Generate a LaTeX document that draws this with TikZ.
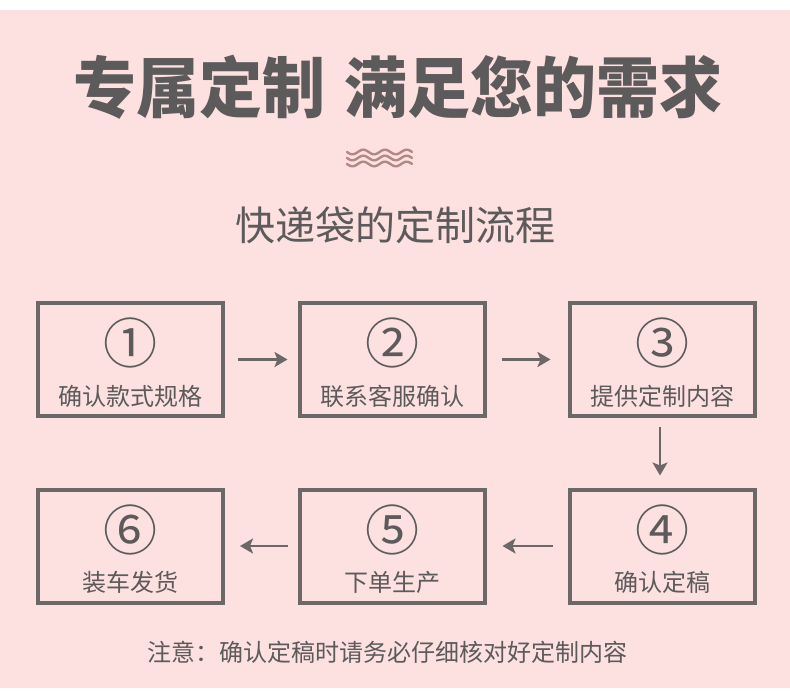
\documentclass[tikz,border=0pt]{standalone}
\usepackage{fontspec}
\newfontfamily\cjk{Noto Sans CJK SC}
\usetikzlibrary{arrows.meta,calc}
\definecolor{bgpink}{RGB}{253,224,224}
\definecolor{txtgray}{RGB}{92,90,90}
\definecolor{boxgray}{RGB}{108,104,104}
\definecolor{wavecol}{RGB}{180,134,134}
\tikzset{
  stepbox/.style={draw=boxgray,line width=4pt,fill=bgpink,minimum width=185pt,minimum height=113pt,inner sep=0pt},
  numtxt/.style={text=txtgray,font=\cjk\fontsize{54}{54}\selectfont,inner sep=0pt},
  steptxt/.style={text=txtgray,font=\cjk\fontsize{24}{24}\selectfont,inner sep=0pt},
  flow/.style={draw=boxgray,line width=2.6pt,-{Stealth[length=13pt,width=15pt,inset=3pt]}}
}
\begin{document}
\begin{tikzpicture}[x=1pt,y=-1pt]
\useasboundingbox (0,0) rectangle (790,700);
\fill[white] (0,0) rectangle (790,700);
\fill[bgpink] (0,10) rectangle (790,688);
% title
\node[text=txtgray,font=\cjk\bfseries\fontsize{63}{63}\selectfont,inner sep=0pt] (title) at (398,87) {\scalebox{1}[1.05]{专属定制\hspace{20pt}满足您的需求}};
% wave
\foreach \yy in {152,158,164}{
  \draw[wavecol,line width=2.4pt,line cap=round,domain=0:65,samples=80] plot ({347+\x},{\yy+2.3*sin(\x*16.59)});
}
\node[text=txtgray,font=\cjk\fontsize{40}{40}\selectfont,inner sep=0pt] (sub) at (395,225) {快递袋的定制流程};
% boxes
\node[stepbox] (b1) at (130.5,359.5) {};
\node[stepbox] (b2) at (392,359.5) {};
\node[stepbox] (b3) at (662,359.5) {};
\node[stepbox] (b4) at (662,546) {};
\node[stepbox] (b5) at (392,546) {};
\node[stepbox] (b6) at (130.5,546) {};
% numbers and labels
\node[numtxt] (n1) at ($(b1.north)+(0,42)$) {①};
\node[steptxt] (t1) at ($(b1.north)+(0,95)$) {确认款式规格};
\node[numtxt] (n2) at ($(b2.north)+(0,42)$) {②};
\node[steptxt] (t2) at ($(b2.north)+(0,95)$) {联系客服确认};
\node[numtxt] (n3) at ($(b3.north)+(0,42)$) {③};
\node[steptxt] (t3) at ($(b3.north)+(0,95)$) {提供定制内容};
\node[numtxt] (n4) at ($(b4.north)+(0,42)$) {④};
\node[steptxt] (t4) at ($(b4.north)+(0,95)$) {确认定稿};
\node[numtxt] (n5) at ($(b5.north)+(0,42)$) {⑤};
\node[steptxt] (t5) at ($(b5.north)+(0,95)$) {下单生产};
\node[numtxt] (n6) at ($(b6.north)+(0,42)$) {⑥};
\node[steptxt] (t6) at ($(b6.north)+(0,95)$) {装车发货};
% arrows
\draw[flow,shorten <=13pt,shorten >=10pt] (b1.east) -- (b2.west);
\draw[flow,shorten <=15pt,shorten >=17pt] (b2.east) -- (b3.west);
\draw[flow,shorten <=9pt,shorten >=12pt] ($(b3.south)+(-2,0)$) -- ($(b4.north)+(-2,0)$);
\draw[flow,shorten <=15pt,shorten >=16pt] (b4.west) -- (b5.east);
\draw[flow,shorten <=10pt,shorten >=15pt] (b5.west) -- (b6.east);
% note
\node[steptxt] (note) at (387,652) {注意：确认定稿时请务必仔细核对好定制内容};
\end{tikzpicture}
\end{document}
